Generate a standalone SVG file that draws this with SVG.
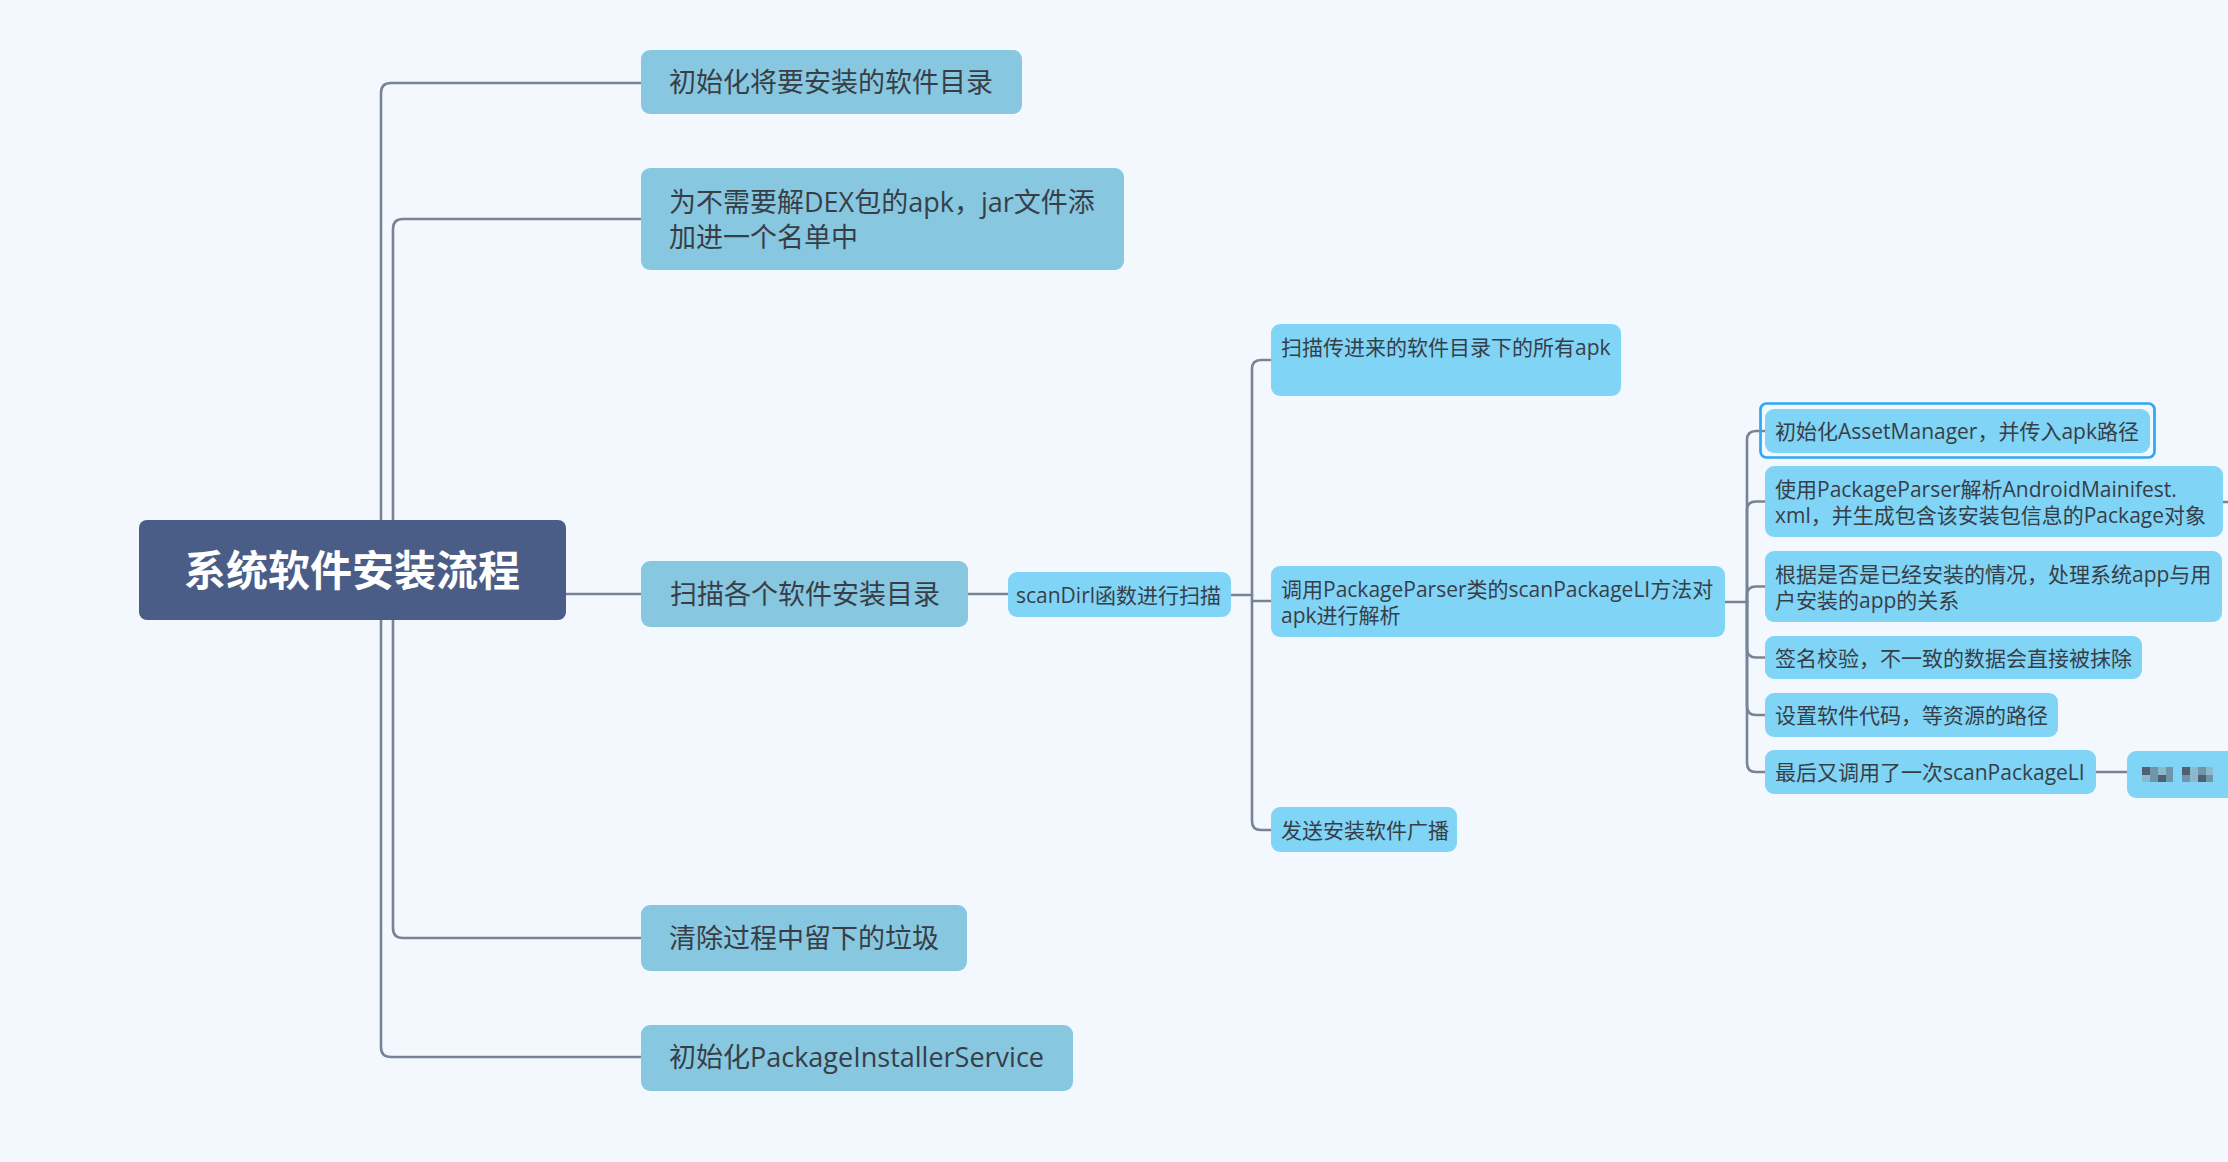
<svg xmlns="http://www.w3.org/2000/svg" width="2228" height="1162" viewBox="0 0 2228 1162">
<style>
.bg{fill:#f3f8fe}
.root{fill:#4a5d87}
.l1{fill:#87c7e0}
.l2{fill:#80d4f6}
.conn path{fill:none;stroke:#778397;stroke-width:2.6;stroke-linecap:round;stroke-linejoin:round}
text{font-family:"Open Sans","Noto Sans CJK SC",sans-serif;fill:#383e47}
.t27{font-size:27px}
.t21{font-size:21px}
.troot{font-size:42px;font-weight:bold;fill:#ffffff}
.sel{fill:none;stroke:#2da8f4;stroke-width:2.7}
.m1{fill:#4f6170}.m2{fill:#6f95aa}.m3{fill:#8ab8cc}
</style>
<rect class="bg" x="0" y="0" width="2228" height="1162"/>
<g id="connectors" class="conn">
<path d="M381,570 V93 Q381,83 391,83 H641"/>
<path d="M381,570 V1047 Q381,1057 391,1057 H641"/>
<path d="M393,570 V229 Q393,219 403,219 H641"/>
<path d="M393,570 V928 Q393,938 403,938 H641"/>
<path d="M566,594 H641"/>
<path d="M968,594 H1008"/>
<path d="M1231,595 H1252"/>
<path d="M1252,595 V369 Q1252,360 1261,360 H1271"/>
<path d="M1252,595 V821 Q1252,830 1261,830 H1271"/>
<path d="M1252,601 H1271"/>
<path d="M1725,602 H1747"/>
<path d="M1747,602 V440 Q1747,431 1756,431 H1765"/>
<path d="M1747,602 V510 Q1747,501.5 1756,501.5 H1765"/>
<path d="M1747,602 V595 Q1747,586.5 1756,586.5 H1765"/>
<path d="M1747,602 V649 Q1747,657.5 1756,657.5 H1765"/>
<path d="M1747,602 V706 Q1747,715 1756,715 H1765"/>
<path d="M1747,602 V763 Q1747,772 1756,772 H1765"/>
<path d="M2223,502 H2230"/>
<path d="M2096,772 H2128"/>
</g>
<g id="root">
<rect class="root" x="139" y="520" width="427" height="100" rx="8"/>
<text class="troot" x="352" y="586" text-anchor="middle">系统软件安装流程</text>
</g>
<g id="n1">
<rect class="l1" x="641" y="50" width="381" height="64" rx="9"/>
<text class="t27" x="669" y="92">初始化将要安装的软件目录</text>
</g>
<g id="n2">
<rect class="l1" x="641" y="168" width="483" height="102" rx="9"/>
<text class="t27" x="669" y="212">为不需要解DEX包的apk，jar文件添</text>
<text class="t27" x="669" y="247">加进一个名单中</text>
</g>
<g id="n3">
<rect class="l1" x="641" y="561" width="327" height="66" rx="9"/>
<text class="t27" x="670" y="604">扫描各个软件安装目录</text>
</g>
<g id="n4">
<rect class="l1" x="641" y="905" width="326" height="66" rx="9"/>
<text class="t27" x="669" y="948">清除过程中留下的垃圾</text>
</g>
<g id="n5">
<rect class="l1" x="641" y="1025" width="432" height="66" rx="9"/>
<text class="t27" x="669" y="1067">初始化PackageInstallerService</text>
</g>
<g id="s1">
<rect class="l2" x="1008" y="572" width="223" height="45" rx="9"/>
<text class="t21" x="1016" y="603">scanDirl函数进行扫描</text>
</g>
<g id="a1">
<rect class="l2" x="1271" y="324" width="350" height="72" rx="9"/>
<text class="t21" x="1281" y="355">扫描传进来的软件目录下的所有apk</text>
</g>
<g id="b1">
<rect class="l2" x="1271" y="566" width="454" height="71" rx="9"/>
<text class="t21" x="1281" y="596.5">调用PackageParser类的scanPackageLI方法对</text>
<text class="t21" x="1281" y="622.5">apk进行解析</text>
</g>
<g id="c1">
<rect class="l2" x="1271" y="807" width="186" height="45" rx="9"/>
<text class="t21" x="1281" y="837.5">发送安装软件广播</text>
</g>
<g id="d1">
<rect class="sel" x="1760.5" y="403.5" width="394" height="54" rx="6"/>
<rect class="l2" x="1765" y="409" width="385" height="44" rx="9"/>
<text class="t21" x="1775" y="439">初始化AssetManager，并传入apk路径</text>
</g>
<g id="d2">
<rect class="l2" x="1765" y="466" width="458" height="71" rx="9"/>
<text class="t21" x="1775" y="496.5">使用PackageParser解析AndroidMainifest.</text>
<text class="t21" x="1775" y="522.5">xml，并生成包含该安装包信息的Package对象</text>
</g>
<g id="d3">
<rect class="l2" x="1765" y="551" width="457" height="71" rx="9"/>
<text class="t21" x="1775" y="581.5">根据是否是已经安装的情况，处理系统app与用</text>
<text class="t21" x="1775" y="607.5">户安装的app的关系</text>
</g>
<g id="d4">
<rect class="l2" x="1765" y="636" width="377" height="43" rx="9"/>
<text class="t21" x="1775" y="665.5">签名校验，不一致的数据会直接被抹除</text>
</g>
<g id="d5">
<rect class="l2" x="1765" y="693" width="293" height="44" rx="9"/>
<text class="t21" x="1775" y="723">设置软件代码，等资源的路径</text>
</g>
<g id="d6">
<rect class="l2" x="1765" y="750" width="331" height="44" rx="9"/>
<text class="t21" x="1775" y="780">最后又调用了一次scanPackageLI</text>
</g>
<g id="e1">
<rect class="l2" x="2127" y="751" width="120" height="47" rx="9"/>
<rect class="m1" x="2142" y="767" width="8" height="8"/>
<rect class="m2" x="2150" y="767" width="8" height="8"/>
<rect class="m3" x="2158" y="767" width="8" height="8"/>
<rect class="m2" x="2166" y="767" width="7" height="8"/>
<rect class="m3" x="2142" y="775" width="8" height="7"/>
<rect class="m2" x="2150" y="775" width="8" height="7"/>
<rect class="m1" x="2158" y="775" width="8" height="7"/>
<rect class="m2" x="2166" y="775" width="7" height="7"/>
<rect class="m1" x="2182" y="767" width="8" height="8"/>
<rect class="m3" x="2190" y="767" width="8" height="8"/>
<rect class="m2" x="2198" y="767" width="8" height="8"/>
<rect class="m3" x="2206" y="767" width="7" height="8"/>
<rect class="m2" x="2182" y="775" width="8" height="7"/>
<rect class="m3" x="2190" y="775" width="8" height="7"/>
<rect class="m1" x="2198" y="775" width="8" height="7"/>
<rect class="m2" x="2206" y="775" width="7" height="7"/>
</g>
</svg>
